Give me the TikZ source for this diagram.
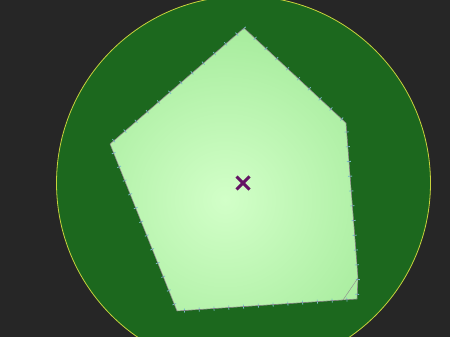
\documentclass[tikz,border=0pt]{standalone}
\usepackage{tikz}
\usepackage{xcolor}

\definecolor{bgdark}{RGB}{38,38,38}
\definecolor{disc}{RGB}{28,104,30}
\definecolor{rim}{RGB}{200,210,60}
\definecolor{paleA}{RGB}{210,255,200}
\definecolor{paleB}{RGB}{158,232,148}
\definecolor{tick}{RGB}{120,190,200}
\definecolor{crossc}{RGB}{100,20,100}

\begin{document}
\begin{tikzpicture}[x=1pt,y=-1pt]
  \fill[bgdark] (0,0) rectangle (450,337);
  \useasboundingbox (0,0) rectangle (450,337);

  % big disc
  \draw[fill=disc,draw=rim,line width=0.8pt] (243.5,183) circle (187);

  % corners of the pentagon
  \coordinate (pa) at (244,28);
  \coordinate (pb) at (346,123);
  \coordinate (pc) at (358,278);
  \coordinate (pd) at (357,299);
  \coordinate (pe) at (177,311);
  \coordinate (pf) at (110,144);

  \begin{scope}
    \clip (pa) -- (pb) -- (pc) -- (pd) -- (pe) -- (pf) -- cycle;
    \fill[paleB] (100,20) rectangle (370,320);
    \shade[inner color=paleA,outer color=paleB] (225,200) circle (210);
  \end{scope}

  % small ticks on the rim of the pentagon
  \draw[tick,line width=4pt,dash pattern=on 0.8pt off 14pt]
    (pa) -- (pb) -- (pc) -- (pd) -- (pe) -- (pf) -- cycle;
  \draw[gray!70!violet,line width=0.6pt,opacity=0.7]
    (pa) -- (pb) -- (pc) -- (pd) -- (pe) -- (pf) -- cycle;
  \draw[gray!70!violet,line width=0.5pt,opacity=0.6] (pc) -- (343,300);

  % centre mark
  \coordinate (ctr) at (243,183);
  \draw[crossc,line width=3pt] ([shift={(-6.5,-6.5)}]ctr) -- ([shift={(6.5,6.5)}]ctr);
  \draw[crossc,line width=3pt] ([shift={(-6.5,6.5)}]ctr) -- ([shift={(6.5,-6.5)}]ctr);
\end{tikzpicture}
\end{document}
